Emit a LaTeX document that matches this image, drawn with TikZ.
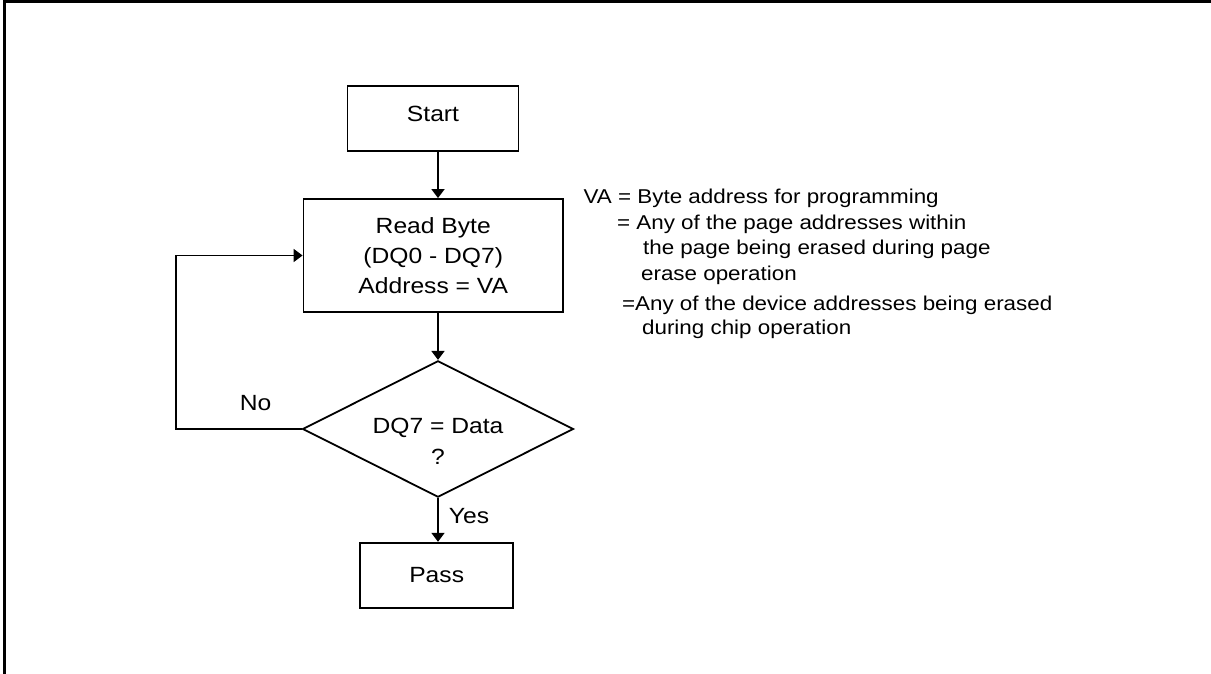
\documentclass[tikz,border=0pt]{standalone}
\usepackage{fontspec}
\setmainfont{Liberation Sans}[FakeStretch=1.12]
\usepackage{xcolor}
\usepackage{tikz}
\usetikzlibrary{shapes.geometric,arrows.meta}
\definecolor{ink}{HTML}{000000}
\definecolor{paper}{HTML}{FFFFFF}
\tikzset{
  frame/.style={draw=ink, line width=1.35pt},
  box/.style={draw=ink, line width=0.9pt, rectangle, align=center, font=\fontsize{11}{15}\selectfont, inner sep=0pt},
  decide/.style={draw=ink, line width=0.9pt, diamond, aspect=2, align=center, font=\fontsize{11}{15.5}\selectfont, inner sep=0pt, text height=35pt, text depth=0pt},
  link/.style={draw=ink, line width=0.9pt},
  arr/.style={draw=ink, line width=0.9pt, -{Triangle[length=4.5pt,width=6.5pt]}},
  lab/.style={text=ink, font=\fontsize{11}{13}\selectfont, inner sep=0pt},
  note/.style={text=ink, font=\fontsize{10}{12}\selectfont, inner sep=0pt, anchor=base west},
}
\begin{document}
\begin{tikzpicture}[x=0.5pt,y=-0.5pt]
  \useasboundingbox[fill=paper] (0,0) rectangle (1211,674);
  \draw[frame] (1211,1.3) -- (4.2,1.3) -- (4.2,674);
  \node[box, minimum width=85.5pt, minimum height=32.5pt, text depth=5pt] (start) at (433,118.5) {Start};
  \node[box, minimum width=129.75pt, minimum height=56.5pt] (read) at (433.25,255.5) {Read Byte\\(DQ0 - DQ7)\\Address = VA};
  \node[decide, minimum width=134.7pt, minimum height=68.2pt] (dec) at (438,429) {DQ7 = Data\\?};
  \node[box, minimum width=76.5pt, minimum height=32.5pt] (pass) at (436.7,575.2) {Pass};
  \coordinate (loop) at (176,429);
  \draw[arr] (start.south -| dec.north) -- (read.north -| dec.north);
  \draw[arr] (read.south -| dec.north) -- (dec.north);
  \draw[arr] (dec.south) -- node[lab, right=5pt, pos=0.41] (yes) {Yes} (dec.south |- pass.north);
  \draw[arr] (dec.west) -- node[lab, above=8.5pt, pos=0.366] (no) {No} (loop) |- (read.west);
  \node[note] (va1) at (583.3,203.5) {VA = Byte address for programming};
  \node[note] (va2) at (616.7,229.5) {= Any of the page addresses within};
  \node[note] (va3) at (642.7,254) {the page being erased during page};
  \node[note] (va4) at (640.7,280) {erase operation};
  \node[note] (va5) at (621.7,310) {=Any of the device addresses being erased};
  \node[note] (va6) at (641.7,334) {during chip operation};
\end{tikzpicture}
\end{document}
